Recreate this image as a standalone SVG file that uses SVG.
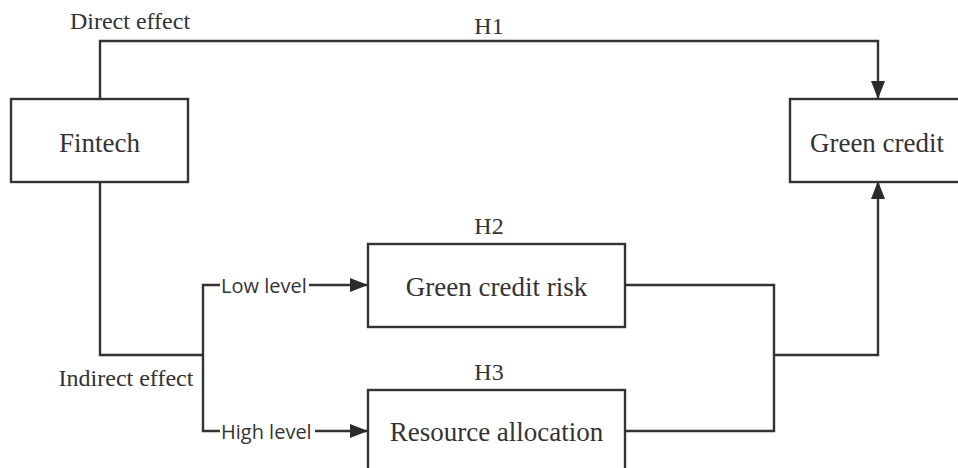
<svg xmlns="http://www.w3.org/2000/svg" width="958" height="468" viewBox="0 0 958 468">
<defs>
<marker id="arr" markerWidth="18" markerHeight="14" refX="18" refY="7" orient="auto" markerUnits="userSpaceOnUse">
<path d="M0,0 L18,7 L0,14 Z" fill="#2b2b2b"/>
</marker>
<style>
.box{fill:#fff;stroke:#333;stroke-width:2.4}
.ln{fill:none;stroke:#333;stroke-width:2.4}
.serif{font-family:"Liberation Serif","Times New Roman",serif;fill:#333}
.sans{font-family:"Open Sans","DejaVu Sans",sans-serif;fill:#333;font-size:20px}
.big{font-size:27px}
.mid{font-size:24px}
</style>
</defs>
<rect width="958" height="468" fill="#fff"/>
<g id="connectors">
<path class="ln" d="M100,99 V41 H878 V99" marker-end="url(#arr)"/>
<path class="ln" d="M100,181 V355 H203"/>
<path class="ln" d="M220,285 H203 V431 H220"/>
<path class="ln" d="M309,285 H368" marker-end="url(#arr)"/>
<path class="ln" d="M315,431 H368" marker-end="url(#arr)"/>
<path class="ln" d="M625,285 H774 V431 H625"/>
<path class="ln" d="M774,355 H878 V181" marker-end="url(#arr)"/>
</g>
<g id="labels">
<text class="serif mid" x="130" y="29" text-anchor="middle">Direct effect</text>
<text class="serif mid" x="489" y="34" text-anchor="middle">H1</text>
<text class="serif mid" x="126" y="386" text-anchor="middle">Indirect effect</text>
<text class="serif mid" x="489" y="234" text-anchor="middle">H2</text>
<text class="serif mid" x="489" y="380" text-anchor="middle">H3</text>
<text class="sans" x="221" y="293">Low level</text>
<text class="sans" x="221" y="439">High level</text>
</g>
<g id="fintech">
<rect class="box" x="11" y="99" width="177" height="83"/>
<text class="serif big" x="99.5" y="152" text-anchor="middle">Fintech</text>
</g>
<g id="green-credit">
<rect class="box" x="790" y="99" width="180" height="83"/>
<text class="serif big" x="877" y="152" text-anchor="middle">Green credit</text>
</g>
<g id="green-credit-risk">
<rect class="box" x="368" y="244" width="257" height="83"/>
<text class="serif big" x="496.5" y="296" text-anchor="middle">Green credit risk</text>
</g>
<g id="resource-allocation">
<rect class="box" x="368" y="390" width="257" height="90"/>
<text class="serif big" x="496.5" y="441" text-anchor="middle">Resource allocation</text>
</g>
</svg>
